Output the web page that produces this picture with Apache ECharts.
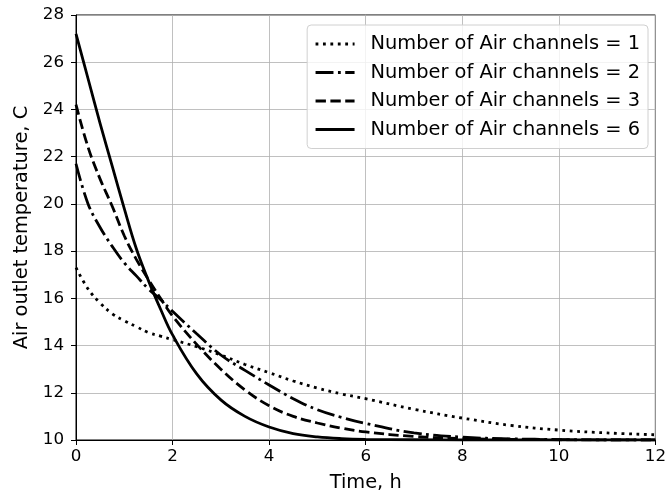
<!DOCTYPE html>
<html>
<head>
<meta charset="utf-8">
<script src="https://cdn.jsdelivr.net/npm/echarts@6/dist/echarts.min.js"></script>
<style>
  html, body { margin: 0; padding: 0; background: #fff; }
  #chart { width: 669px; height: 498px; }
</style>
</head>
<body>
<div id="chart"></div>
<script>
// Time axis samples, hours
const timeHours = [0, 0.25, 0.5, 0.75, 1, 1.25, 1.5, 1.75, 2, 2.5, 3, 3.5, 4, 4.5, 5, 5.5, 6, 7, 8, 9, 10, 11, 12];

// Air outlet temperature (C) for each number of air channels
const channels1 = [17.3, 16.4, 15.8, 15.35, 15.05, 14.8, 14.55, 14.4, 14.25, 13.95, 13.6, 13.2, 12.85, 12.5, 12.2, 11.95, 11.75, 11.3, 10.93, 10.62, 10.42, 10.3, 10.22];
const channels2 = [21.7, 20.0, 19.0, 18.2, 17.5, 16.95, 16.4, 15.95, 15.45, 14.5, 13.6, 12.95, 12.33, 11.75, 11.28, 10.96, 10.7, 10.3, 10.12, 10.05, 10.02, 10.0, 10.0];
const channels3 = [24.2, 22.4, 21.05, 19.9, 18.65, 17.65, 16.8, 16.0, 15.25, 14.05, 13.0, 12.12, 11.45, 11.0, 10.72, 10.5, 10.34, 10.15, 10.06, 10.03, 10.01, 10.0, 10.0];
const channels6 = [27.2, 25.3, 23.4, 21.6, 19.8, 18.1, 16.75, 15.55, 14.45, 12.8, 11.7, 11.0, 10.55, 10.27, 10.13, 10.06, 10.03, 10.01, 10.0, 10.0, 10.0, 10.0, 10.0];

const seriesNames = [
  'Number of Air channels = 1',
  'Number of Air channels = 2',
  'Number of Air channels = 3',
  'Number of Air channels = 6'
];

const FONT = 'DejaVu Sans';
const TICK_FS = 16.7;
const LABEL_FS = 19.4;
const LW = 2.8;

// dash patterns scaled by line width
const dashStyles = [
  [LW * 1, LW * 1.65],
  [LW * 6.4, LW * 1.6, LW * 1, LW * 1.6],
  [LW * 3.7, LW * 1.6],
  'solid'
];

function pairs(ys) {
  return timeHours.map((t, i) => [t, ys[i]]);
}

const allValues = [channels1, channels2, channels3, channels6];

const chart = echarts.init(document.getElementById('chart'), null, { renderer: 'canvas' });

chart.setOption({
  animation: false,
  backgroundColor: '#fff',
  grid: {
    left: 76, right: 11, top: 15, bottom: 58,
    show: true, borderColor: '#000', borderWidth: 1, backgroundColor: 'transparent'
  },
  xAxis: {
    type: 'value', min: 0, max: 12, interval: 2,
    name: 'Time, h', nameLocation: 'middle', nameGap: 33,
    nameTextStyle: { fontFamily: FONT, fontSize: LABEL_FS, color: '#000' },
    axisLine: { show: true, onZero: false, lineStyle: { color: '#000', width: 1 } },
    axisTick: { show: true, length: 5, lineStyle: { color: '#000' } },
    axisLabel: { fontFamily: FONT, fontSize: TICK_FS, color: '#000', margin: 8 },
    splitLine: { show: true, lineStyle: { color: '#b0b0b0', width: 0.8 } }
  },
  yAxis: {
    type: 'value', min: 10, max: 28, interval: 2,
    name: 'Air outlet temperature, C', nameLocation: 'middle', nameGap: 44,
    nameTextStyle: { fontFamily: FONT, fontSize: LABEL_FS, color: '#000' },
    axisLine: { show: true, lineStyle: { color: '#000', width: 1 } },
    axisTick: { show: true, length: 5, lineStyle: { color: '#000' } },
    axisLabel: { fontFamily: FONT, fontSize: TICK_FS, color: '#000', margin: 12 },
    splitLine: { show: true, lineStyle: { color: '#b0b0b0', width: 0.8 } }
  },
  legend: {
    orient: 'vertical',
    right: 21, top: 25,
    itemWidth: 39, itemHeight: 14, itemGap: 6.5,
    padding: [8, 8, 8, 7],
    borderColor: '#d0d0d0', borderWidth: 1, borderRadius: 4,
    backgroundColor: 'rgba(255,255,255,0.8)',
    itemStyle: { opacity: 0 },
    lineStyle: { width: LW, color: '#000' },
    textStyle: { fontFamily: FONT, fontSize: LABEL_FS, color: '#000', lineHeight: 22, padding: [0, 0, 0, 11] },
    data: seriesNames.map((name, i) => ({
      name: name,
      lineStyle: { width: LW, color: '#000', type: dashStyles[i], cap: 'butt' }
    }))
  },
  series: seriesNames.map((name, i) => ({
    name: name,
    type: 'line',
    data: pairs(allValues[i]),
    showSymbol: false,
    symbol: 'none',
    smooth: 0.4,
    lineStyle: { color: '#000', width: LW, type: dashStyles[i], cap: 'butt' },
    itemStyle: { color: '#000' },
    z: 3
  }))
});
</script>
</body>
</html>
